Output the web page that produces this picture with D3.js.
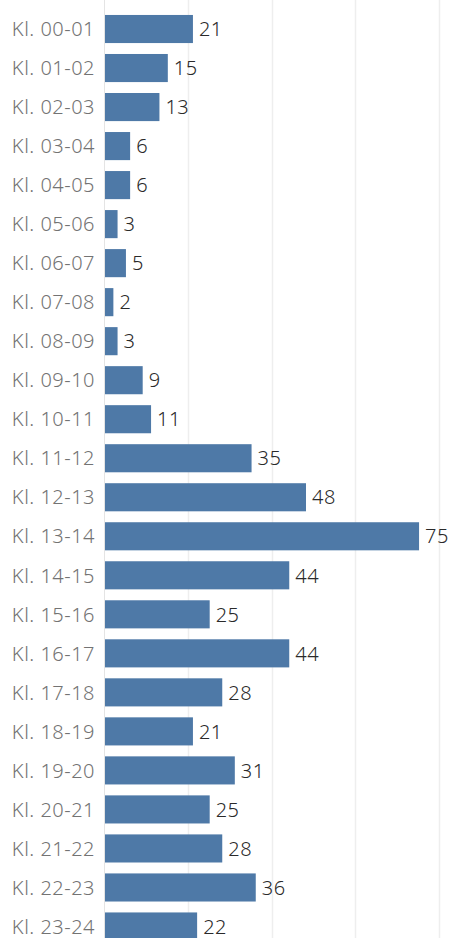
<!DOCTYPE html>
<html><head><meta charset="utf-8">
<script src="https://cdn.jsdelivr.net/npm/d3@7"></script>
<style>html,body{margin:0;padding:0;background:#fff;overflow:hidden}</style>
</head><body>
<svg id="c" width="450" height="938"></svg>
<script>
const categories = ["Kl. 00-01","Kl. 01-02","Kl. 02-03","Kl. 03-04","Kl. 04-05","Kl. 05-06","Kl. 06-07","Kl. 07-08","Kl. 08-09","Kl. 09-10","Kl. 10-11","Kl. 11-12","Kl. 12-13","Kl. 13-14","Kl. 14-15","Kl. 15-16","Kl. 16-17","Kl. 17-18","Kl. 18-19","Kl. 19-20","Kl. 20-21","Kl. 21-22","Kl. 22-23","Kl. 23-24"];
const values = [21,15,13,6,6,3,5,2,3,9,11,35,48,75,44,25,44,28,21,31,25,28,36,22];
const gridTicks = [20,40,60,80];

const svg = d3.select("#c");
const x = d3.scaleLinear().domain([0,80]).range([105,440]);
const y = d3.scaleBand().domain(categories).range([9.5,946]).paddingInner(0.28).paddingOuter(0.14);
const font = "'Noto Sans', sans-serif";

svg.selectAll("line.grid").data(gridTicks).join("line")
  .attr("x1",d=>Math.round(x(d))-0.5).attr("x2",d=>Math.round(x(d))-0.5)
  .attr("y1",0).attr("y2",938).attr("stroke","#eeeeee").attr("stroke-width",1.5);
svg.append("line").attr("x1",104.5).attr("x2",104.5).attr("y1",0).attr("y2",938)
  .attr("stroke","#e4e4e4");

svg.selectAll("rect").data(values).join("rect")
  .attr("x",x(0)).attr("y",(d,i)=>y(categories[i]))
  .attr("width",d=>x(d)-x(0)).attr("height",y.bandwidth())
  .attr("fill","#4e79a7");

svg.selectAll("text.v").data(values).join("text")
  .attr("x",d=>x(d)+6).attr("y",(d,i)=>y(categories[i])+y.bandwidth()/2)
  .attr("dy","0.36em").attr("font-family",font).attr("font-size",20)
  .attr("letter-spacing","0.5px").attr("font-weight",300)
  .attr("fill","#2a2a2a").text(d=>d);

svg.selectAll("text.c").data(categories).join("text")
  .attr("x",95).attr("y",d=>y(d)+y.bandwidth()/2)
  .attr("dy","0.36em").attr("text-anchor","end").attr("font-family",font)
  .attr("font-size",20).attr("letter-spacing","0.5px").attr("font-weight",300)
  .attr("fill","#737373").text(d=>d);
</script>
</body></html>
